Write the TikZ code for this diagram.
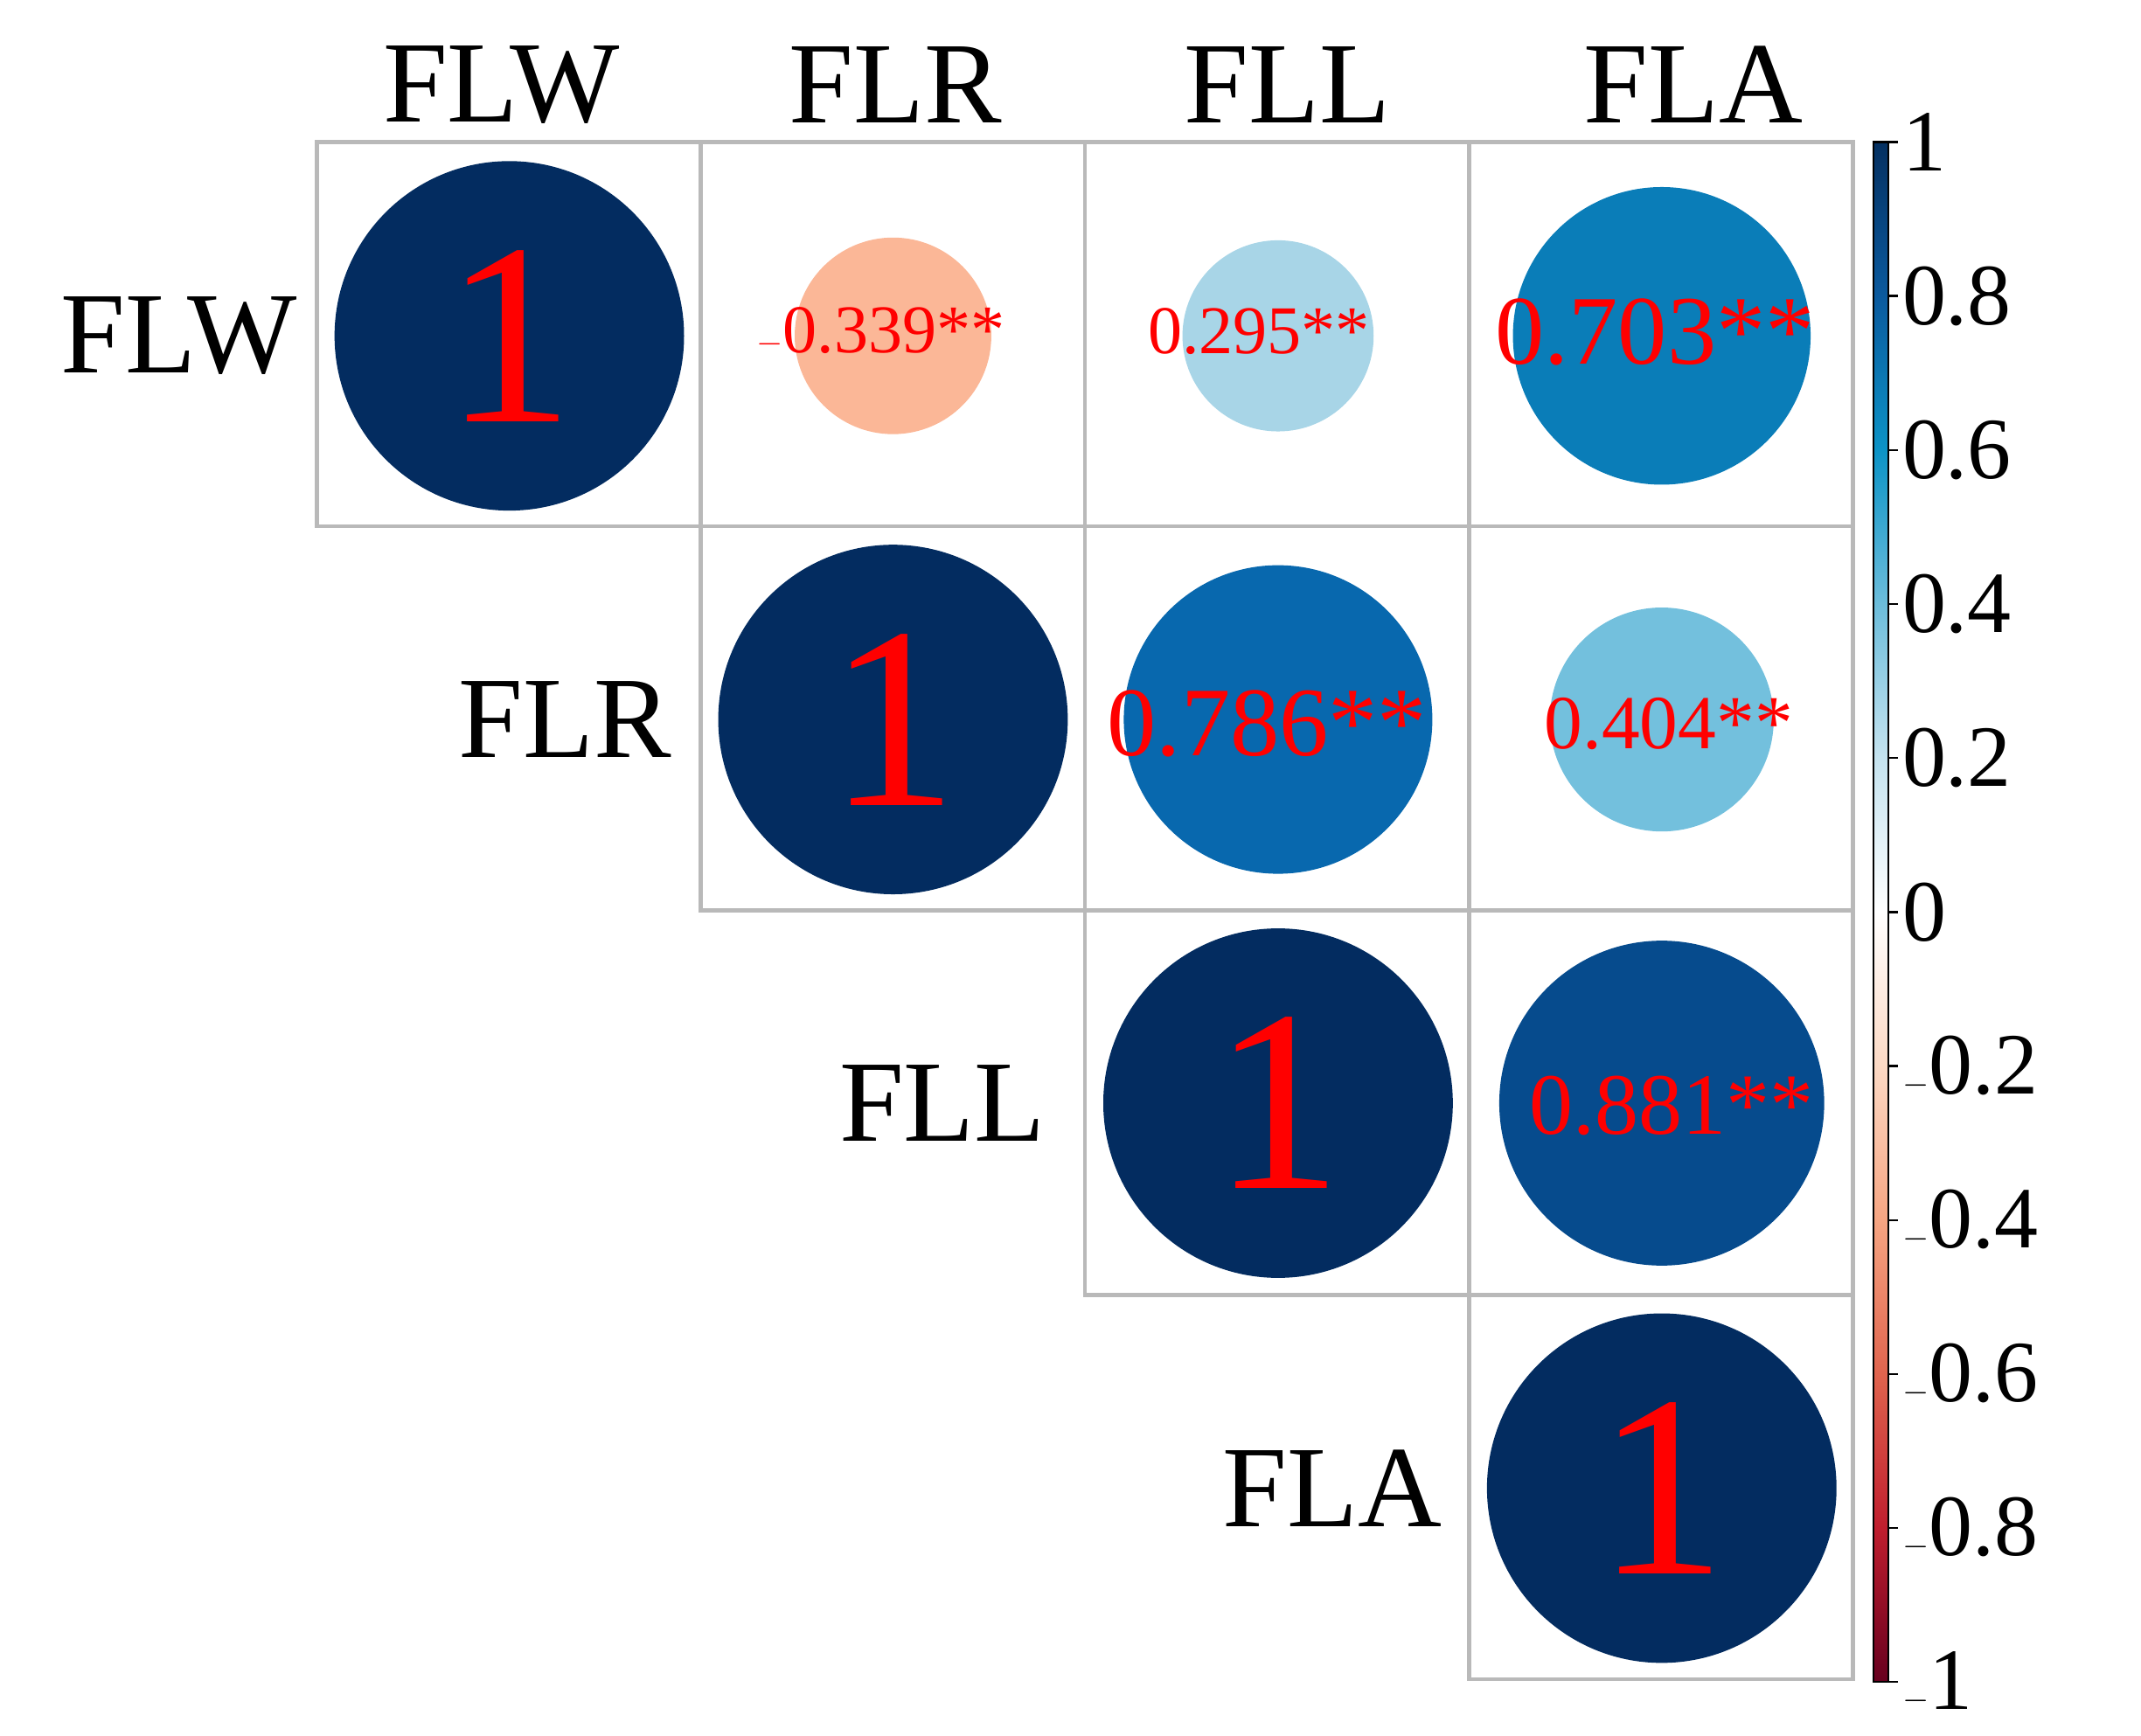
\documentclass[tikz,border=0pt]{standalone}
\usepackage{fontspec}
\setmainfont{Liberation Serif}
\definecolor{cOne}{HTML}{032C60}
\definecolor{cA}{HTML}{FBB797}
\definecolor{cB}{HTML}{A8D5E7}
\definecolor{cC}{HTML}{0A7DB8}
\definecolor{cD}{HTML}{0868AE}
\definecolor{cE}{HTML}{73C0DD}
\definecolor{cF}{HTML}{064B8D}
\definecolor{k1}{HTML}{053061}
\definecolor{k08}{HTML}{0B5A9E}
\definecolor{k06}{HTML}{0C93C6}
\definecolor{k04}{HTML}{6CBDDB}
\definecolor{k02}{HTML}{C5E3EF}
\definecolor{k0}{HTML}{FFFFFF}
\definecolor{km02}{HTML}{FCD9C4}
\definecolor{km04}{HTML}{F6A582}
\definecolor{km06}{HTML}{E0644E}
\definecolor{km08}{HTML}{C01E2E}
\definecolor{km1}{HTML}{67001F}
\begin{document}
\begin{tikzpicture}[x=1pt,y=-1pt,
  cell/.style={draw=gray!55,line width=3pt},
  lab/.style={font=\fontsize{85}{90}\selectfont,text=black,inner sep=0},
  val/.style={text=red,inner sep=0},
  tick/.style={font=\fontsize{64}{70}\selectfont,anchor=west,inner sep=0}]
\useasboundingbox (0,0) rectangle (1568,1271);
% grid cells
\foreach \r in {0,...,3}{\foreach \c in {\r,...,3}{
  \draw[cell] ({232+281.3*\c},{104+281.5*\r}) rectangle ++(281.3,281.5);}}
% circles
\fill[cOne] (373,246) circle (128);
\fill[cOne] (654,527) circle (128);
\fill[cOne] (936,808) circle (128);
\fill[cOne] (1217,1090) circle (128);
\fill[cA] (654,246) circle (72);
\fill[cB] (936,246) circle (70);
\fill[cC] (1217,246) circle (109);
\fill[cD] (936,527) circle (113);
\fill[cE] (1217,527) circle (82);
\fill[cF] (1217,808) circle (119);
% values
\node[val,font=\fontsize{190}{190}\selectfont] (v11) at (373,246) {1};
\node[val,font=\fontsize{190}{190}\selectfont] (v22) at (654,527) {1};
\node[val,font=\fontsize{190}{190}\selectfont] (v33) at (936,808) {1};
\node[val,font=\fontsize{190}{190}\selectfont] (v44) at (1217,1090) {1};
\node[val,font=\fontsize{50}{50}\selectfont] (v12) at (645,243) {$-$0.339**};
\node[val,font=\fontsize{50}{50}\selectfont] (v13) at (922,243) {0.295**};
\node[val,font=\fontsize{72}{72}\selectfont] (v14) at (1212,243) {0.703**};
\node[val,font=\fontsize{72}{72}\selectfont] (v23) at (928,530) {0.786**};
\node[val,font=\fontsize{56}{56}\selectfont] (v24) at (1222,530) {0.404**};
\node[val,font=\fontsize{64}{64}\selectfont] (v34) at (1224,810) {0.881**};
% labels
\node[lab] (cFLW) at (367,62) {FLW};
\node[lab] (cFLR) at (656,62) {FLR};
\node[lab] (cFLL) at (943,62) {FLL};
\node[lab] (cFLA) at (1240,62) {FLA};
\node[lab,anchor=east] (rFLW) at (218,246) {FLW};
\node[lab,anchor=east] (rFLR) at (492,527) {FLR};
\node[lab,anchor=east] (rFLL) at (766,808) {FLL};
\node[lab,anchor=east] (rFLA) at (1056,1090) {FLA};
% colorbar
\def\cb#1#2#3{\shade[top color=#1,bottom color=#2] (1372,{104+112.8*#3}) rectangle (1383,{104+112.8*(#3+1)});}
\cb{k1}{k08}{0}\cb{k08}{k06}{1}\cb{k06}{k04}{2}\cb{k04}{k02}{3}\cb{k02}{k0}{4}
\cb{k0}{km02}{5}\cb{km02}{km04}{6}\cb{km04}{km06}{7}\cb{km06}{km08}{8}\cb{km08}{km1}{9}
\draw[black,line width=1.5pt] (1372,104) rectangle (1383,1232);
\foreach \i/\t in {0/1,1/0.8,2/0.6,3/0.4,4/0.2,5/0,6/$-$0.2,7/$-$0.4,8/$-$0.6,9/$-$0.8,10/$-$1}{
  \draw[line width=1.5pt] (1383,{104+112.8*\i}) -- (1390,{104+112.8*\i});
  \node[tick] (t\i) at (1393,{104+112.8*\i}) {\t};}
\end{tikzpicture}
\end{document}
